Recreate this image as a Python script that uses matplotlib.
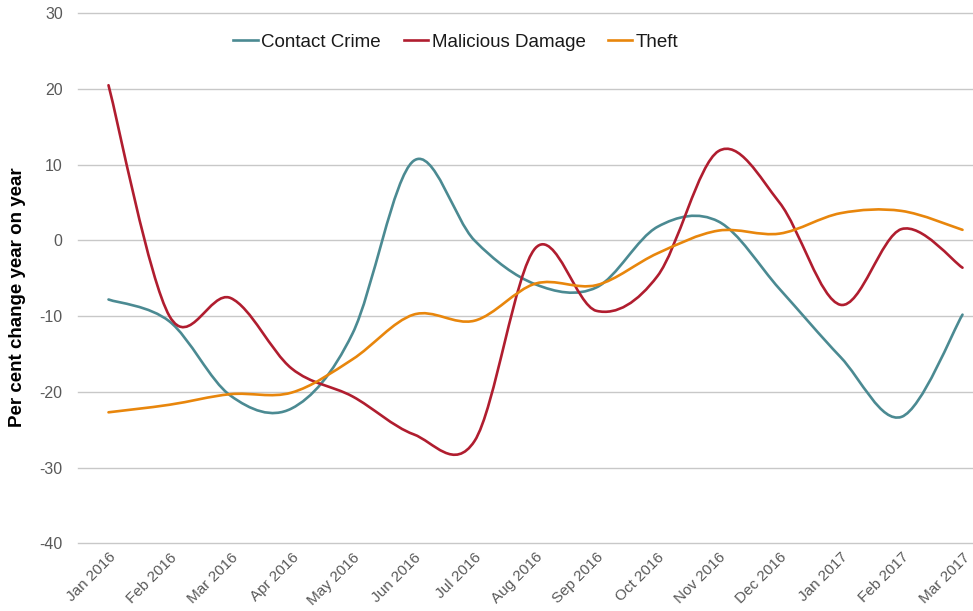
import numpy as np
import matplotlib.pyplot as plt
from matplotlib.path import Path
from matplotlib.patches import PathPatch
from matplotlib.lines import Line2D

plt.rcParams['font.family'] = ['Liberation Sans', 'DejaVu Sans']
plt.rcParams['axes.unicode_minus'] = False

months = ['Jan 2016', 'Feb 2016', 'Mar 2016', 'Apr 2016', 'May 2016', 'Jun 2016',
          'Jul 2016', 'Aug 2016', 'Sep 2016', 'Oct 2016', 'Nov 2016', 'Dec 2016',
          'Jan 2017', 'Feb 2017', 'Mar 2017']

contact_crime = [-7.8, -10.7, -20.5, -22.2, -12.3, 10.5, 0.0, -5.8, -6.2, 1.8, 2.5, -6.4, -15.4, -23.3, -9.8]
malicious_damage = [20.5, -10.0, -7.6, -16.9, -20.6, -25.6, -26.5, -1.0, -9.3, -4.7, 11.8, 5.0, -8.5, 1.5, -3.6]
theft = [-22.7, -21.7, -20.3, -20.1, -15.7, -9.8, -10.6, -5.7, -5.9, -1.7, 1.3, 0.9, 3.6, 3.9, 1.4]

series = [('Contact Crime', contact_crime, '#4b8a92'),
          ('Malicious Damage', malicious_damage, '#b01d2f'),
          ('Theft', theft, '#e8860c')]


def smooth_path(xs, ys):
    # Excel style smoothed line: cubic bezier with catmull-rom control points
    pts = np.column_stack([xs, ys]).astype(float)
    verts = [pts[0]]
    codes = [Path.MOVETO]
    n = len(pts)
    for i in range(n - 1):
        p0 = pts[i - 1] if i > 0 else pts[i]
        p1 = pts[i]
        p2 = pts[i + 1]
        p3 = pts[i + 2] if i + 2 < n else pts[i + 1]
        c1 = p1 + (p2 - p0) / 6.0
        c2 = p2 - (p3 - p1) / 6.0
        verts += [c1, c2, p2]
        codes += [Path.CURVE4] * 3
    return Path(verts, codes)


fig = plt.figure(figsize=(9.73, 6.11), dpi=100)
ax = fig.add_axes([78 / 973, 1 - 543.3 / 611, 915 / 973, 530 / 611])

x = np.arange(len(months))
handles = []
for name, vals, color in series:
    patch = PathPatch(smooth_path(x, vals), facecolor='none', edgecolor=color,
                      lw=1.9, capstyle='round', joinstyle='round')
    ax.add_patch(patch)
    handles.append(Line2D([], [], color=color, lw=1.9, label=name))

ax.set_xlim(-0.5, len(months) - 0.5)
ax.set_ylim(-40, 30)
ax.set_yticks(range(-40, 31, 10))
ax.yaxis.grid(True, color='#c8c8c8', lw=1)
for gl in ax.get_ygridlines():
    gl.set_clip_on(False)
ax.set_axisbelow(True)
for s in ax.spines.values():
    s.set_visible(False)
ax.tick_params(axis='both', length=0, colors='#595959', labelsize=11.5)
ax.tick_params(axis='y', pad=11)
ax.set_xticks(x)
ax.set_xticklabels(months, rotation=45, ha='right', rotation_mode='anchor', fontsize=11)
ax.tick_params(axis='x', pad=5)

fig.text(18 / 973, 1 - 297 / 611, 'Per cent change year on year', rotation=90,
         ha='center', va='center', fontsize=13.5, fontweight='bold', color='black')

leg = ax.legend(handles=handles, loc='center', bbox_to_anchor=(456 / 973, 1 - 42 / 611),
                bbox_transform=fig.transFigure, ncol=3, frameon=False, fontsize=13.5,
                handlelength=1.3, handletextpad=0.2, columnspacing=1.2)
for t in leg.get_texts():
    t.set_color('#1a1a1a')

fig.savefig('out.png', dpi=100)
